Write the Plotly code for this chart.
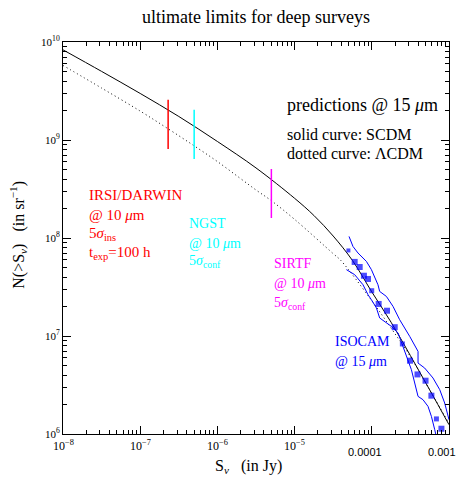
import numpy as np
import plotly.graph_objects as go

# Integral counts N(>S) predicted at 15 micron (log10 S in Jy, log10 N in sr^-1)
scdm_logs = [-8.0, -7.5, -7.0, -6.5, -6.0, -5.5, -5.0, -4.75, -4.5, -4.25, -4.0, -3.75, -3.5, -3.25, -3.0]
scdm_logn = [9.92, 9.70, 9.475, 9.24, 8.985, 8.715, 8.405, 8.23, 8.02, 7.77, 7.45, 7.14, 6.80, 6.45, 6.095]

lcdm_logs = [-8.0, -7.5, -7.0, -6.64, -6.3, -6.0, -5.71, -5.5, -5.3, -5.0, -4.5, -4.4, -4.0, -3.75, -3.5, -3.25, -3.0]
lcdm_logn = [9.761, 9.53, 9.295, 9.115, 8.94, 8.78, 8.612, 8.49, 8.38, 8.19, 7.84, 7.77, 7.36, 7.08, 6.79, 6.45, 6.11]

# ISOCAM 15 micron counts and their envelope
isocam_logs = [-4.303, -4.222, -4.157, -4.102, -4.049, -4.001, -3.911, -3.803, -3.703, -3.604,
               -3.505, -3.408, -3.304, -3.228, -3.163, -3.098]
isocam_logn = [7.873, 7.756, 7.704, 7.615, 7.582, 7.462, 7.327, 7.258, 7.090, 6.919,
               6.748, 6.608, 6.544, 6.391, 6.154, 6.054]
isocam_size = [4, 6, 6, 6, 6, 5, 6, 6, 6, 5, 6, 6, 6, 6, 5, 6]

upper_logs = [-4.295, -4.244, -4.179, -4.070, -4.005, -3.920, -3.898, -3.811, -3.725, -3.639,
              -3.509, -3.401, -3.401, -3.315, -3.207, -3.120, -3.056, -3.0]
upper_logn = [8.016, 7.914, 7.847, 7.761, 7.677, 7.523, 7.455, 7.404, 7.302, 7.166,
              6.996, 6.843, 6.724, 6.673, 6.571, 6.452, 6.316, 6.146]

lower_logs = [-4.329, -4.222, -4.114, -4.049, -4.005, -3.940, -3.898, -3.811, -3.746, -3.660,
              -3.574, -3.487, -3.401, -3.337, -3.272, -3.228, -3.185, -3.172]
lower_logn = [7.677, 7.626, 7.523, 7.421, 7.370, 7.286, 7.184, 7.139, 7.098, 7.031,
              6.843, 6.656, 6.384, 6.350, 6.282, 6.180, 6.044, 6.0]

# Sensitivity limits of future missions: flux limit and the N range of the marker bar
limit_names = ["IRSI/DARWIN", "NGST", "SIRTF"]
limit_flux = [2.3e-7, 5.0e-7, 5.0e-6]
limit_nlow = [8.1e8, 6.4e8, 1.6e8]
limit_nhigh = [2.58e9, 2.04e9, 5.06e8]
limit_colors = ["#ff0000", "#00ffff", "#ff00ff"]

# Axis tick labels
x_tickvals = [1e-8, 1e-7, 1e-6, 1e-5, 1e-4, 1e-3]
x_ticktext = ["10<sup>−8</sup>", "10<sup>−7</sup>", "10<sup>−6</sup>", "10<sup>−5</sup>", "0.0001", "0.001"]
y_tickvals = [1e6, 1e7, 1e8, 1e9, 1e10]
y_ticktext = ["10<sup>6</sup>", "10<sup>7</sup>", "10<sup>8</sup>", "10<sup>9</sup>", "10<sup>10</sup>"]

SERIF = "Liberation Serif, Times New Roman, serif"
BLUE = "#0000ff"
X_RANGE = [-8, -3]
Y_RANGE = [6, 10]


def pw(v):
    return np.power(10.0, np.asarray(v))


def minor_ticks(decades):
    # 2..9 times each decade
    return [k * d for d in decades[:-1] for k in range(2, 10)]


fig = go.Figure()

fig.add_trace(go.Scatter(x=pw(scdm_logs), y=pw(scdm_logn), mode="lines",
                         line=dict(color="black", width=1, shape="spline"), hoverinfo="skip"))
fig.add_trace(go.Scatter(x=pw(lcdm_logs), y=pw(lcdm_logn), mode="lines",
                         line=dict(color="black", width=1, dash="1px,3px", shape="spline"), hoverinfo="skip"))

for s, lo, hi, c in zip(limit_flux, limit_nlow, limit_nhigh, limit_colors):
    fig.add_trace(go.Scatter(x=[s, s], y=[lo, hi], mode="lines",
                             line=dict(color=c, width=1.5), hoverinfo="skip"))

fig.add_trace(go.Scatter(x=pw(upper_logs), y=pw(upper_logn), mode="lines",
                         line=dict(color=BLUE, width=1), hoverinfo="skip"))
fig.add_trace(go.Scatter(x=pw(lower_logs), y=pw(lower_logn), mode="lines",
                         line=dict(color=BLUE, width=1), hoverinfo="skip"))
fig.add_trace(go.Scatter(x=pw(isocam_logs), y=pw(isocam_logn), mode="markers",
                         marker=dict(symbol="square", size=isocam_size, color=BLUE, line=dict(width=0)),
                         hoverinfo="skip"))

# empty trace that carries the minor-tick axes
fig.add_trace(go.Scatter(x=[None], y=[None], xaxis="x2", yaxis="y2", mode="markers",
                         showlegend=False, hoverinfo="skip"))

axis_common = dict(
    type="log", showgrid=False, zeroline=False, showline=True, linecolor="black", linewidth=1,
    mirror="ticks", ticks="inside", ticklen=8, tickwidth=1, tickcolor="black",
)
minor_common = dict(
    type="log", showgrid=False, zeroline=False, showline=False, mirror="ticks",
    ticks="inside", ticklen=4, tickwidth=1, tickcolor="black", showticklabels=False, tickmode="array",
)

fig.update_layout(
    xaxis=dict(range=X_RANGE, tickmode="array", tickvals=x_tickvals, showticklabels=False, **axis_common),
    yaxis=dict(range=Y_RANGE, tickmode="array", tickvals=y_tickvals, ticktext=y_ticktext,
               tickfont=dict(family=SERIF, size=11, color="black"), **axis_common),
    xaxis2=dict(range=X_RANGE, overlaying="x", anchor="y2", side="bottom",
                tickvals=minor_ticks(x_tickvals), **minor_common),
    yaxis2=dict(range=Y_RANGE, overlaying="y", anchor="x2", side="left",
                tickvals=minor_ticks(y_tickvals), **minor_common),
)

ann = []


def text(x, y, s, color="black", size=14, xanchor="left", **kw):
    ann.append(dict(x=x, y=y, xref="paper", yref="paper", text=s, showarrow=False,
                    xanchor=xanchor, yanchor="middle", font=dict(family=SERIF, size=size, color=color), **kw))


# bottom tick labels
for v, t in zip(x_tickvals, x_ticktext):
    plain = "sup" not in t
    ann.append(dict(x=np.log10(v), y=-0.026 if plain else -0.005, xref="x", yref="paper", text=t,
                    showarrow=False, xanchor="center", yanchor="top",
                    xshift=-7 if plain else 0,
                    font=dict(family="Liberation Sans, Arial, sans-serif" if plain else SERIF,
                              size=11 if plain else 12, color="black")))

text(0.5, 1.064, "ultimate limits for deep surveys", size=18, xanchor="center")
text(0.48, -0.084, "S<sub><i>ν</i></sub>   (in Jy)", size=16, xanchor="center")
text(-0.117, 0.508, "N(&gt;S<sub><i>ν</i></sub>)   (in sr<sup>−1</sup>)", size=16, xanchor="center", textangle=-90)

text(0.575, 0.840, "predictions @ 15 <i>μ</i>m", size=18)
text(0.575, 0.765, "solid curve: SCDM", size=16)
text(0.575, 0.716, "dotted curve: ΛCDM", size=16)

red, cyan, mag = limit_colors
text(0.062, 0.610, limit_names[0], red, 15)
text(0.062, 0.559, "@ 10 <i>μ</i>m", red, 15)
text(0.062, 0.510, "5<i>σ</i><sub>ins</sub>", red, 15)
text(0.062, 0.462, "t<sub>exp</sub>=100 h", red, 15)

text(0.322, 0.538, limit_names[1], cyan, 14)
text(0.322, 0.487, "@ 10 <i>μ</i>m", cyan, 14)
text(0.322, 0.439, "5<i>σ</i><sub>conf</sub>", cyan, 14)

text(0.541, 0.436, limit_names[2], mag, 14)
text(0.541, 0.385, "@ 10 <i>μ</i>m", mag, 14)
text(0.541, 0.334, "5<i>σ</i><sub>conf</sub>", mag, 14)

text(0.700, 0.235, "ISOCAM", BLUE, 14)
text(0.700, 0.186, "@ 15 <i>μ</i>m", BLUE, 14)

fig.update_layout(
    width=460, height=480, margin=dict(l=63, r=11, t=42, b=46),
    paper_bgcolor="white", plot_bgcolor="white", showlegend=False,
    annotations=ann, font=dict(family=SERIF, color="black"),
)

fig.write_html("out.html")
